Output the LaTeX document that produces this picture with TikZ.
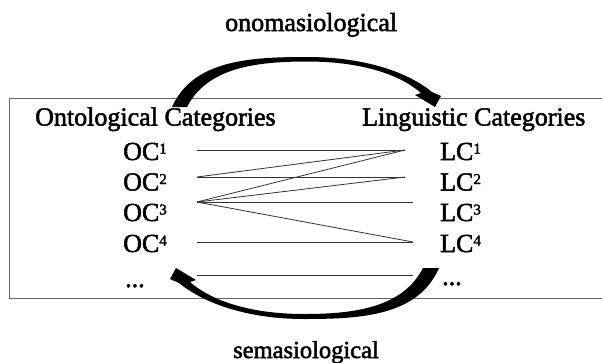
\documentclass[tikz,border=0pt]{standalone}
\usepackage{fontspec}
\setmainfont{Liberation Serif}
\newcommand\supnum[1]{{\fontsize{15}{15}\selectfont\raisebox{6.5pt}{#1}}}
\begin{document}
\begin{tikzpicture}[x=1pt,y=-1pt,
  lbl/.style={anchor=base west,inner sep=0pt,font=\fontsize{26}{30}\selectfont\addfontfeature{FakeBold=2}},
  link/.style={draw=black!80,line width=0.8pt},
  frame/.style={draw=black!60,line width=1pt},
  bendarrow/.style={fill=black}]
\useasboundingbox (0,0) rectangle (602,362);
\draw[frame] (602,98) -- (9.5,98) -- (9.5,298.5) -- (602,298.5);

\node[lbl] (ont) at (35,125.5) {Ontological Categories};
\node[lbl] (ling) at (362,125.5) {Linguistic Categories};

\node[lbl] (oc1) at (123,160) {OC\supnum{1}};
\node[lbl] (oc2) at (123,190.5) {OC\supnum{2}};
\node[lbl] (oc3) at (123,221) {OC\supnum{3}};
\node[lbl] (oc4) at (123,252) {OC\supnum{4}};
\node[lbl] (ocd) at (125,287) {...};

\node[lbl] (lc1) at (440,160) {LC\supnum{1}};
\node[lbl] (lc2) at (440,190.5) {LC\supnum{2}};
\node[lbl] (lc3) at (440,221) {LC\supnum{3}};
\node[lbl] (lc4) at (440,252) {LC\supnum{4}};
\node[lbl] (lcd) at (442,285) {...};

\node[lbl] (ono) at (225,31) {onomasiological};
\node[lbl,font=\fontsize{24.5}{30}\selectfont\addfontfeature{FakeBold=2}] (sem) at (233,358) {semasiological};

\coordinate (o1) at (197,150);
\coordinate (o2) at (197,177);
\coordinate (o3) at (197,202);
\coordinate (o4) at (197,242);
\coordinate (o5) at (197,275);
\coordinate (l1) at (405,150);
\coordinate (l2) at (405,177);
\coordinate (l3) at (413,202);
\coordinate (l4) at (413,242);
\coordinate (l5) at (413,275);

\draw[link] (o1) -- (l1);
\draw[link] (o2) -- (l1);
\draw[link] (o2) -- (l2);
\draw[link] (o3) -- (l1);
\draw[link] (o3) -- (l2);
\draw[link] (o3) -- (l3);
\draw[link] (o3) -- (l4);
\draw[link] (o4) -- (l4);
\draw[link] (o5) -- (l5);

% onomasiological arrow
\fill[bendarrow] (172,107) .. controls (193,60) and (250,57) .. (307,57)
  .. controls (360,57) and (405,70) .. (432,92)
  -- (441,96) -- (435,107) -- (415,95) -- (421,93)
  .. controls (398,73) and (358,61.5) .. (307,61.5)
  .. controls (255,61.5) and (207,68) .. (187,107) -- cycle;

% semasiological arrow
\begin{scope}[rotate around={180:(305.5,187.5)}]
\fill[bendarrow] (172,107) .. controls (193,59) and (250,56) .. (307,56)
  .. controls (360,56) and (405,70) .. (432,92)
  -- (441,96) -- (435,107) -- (415,95) -- (421,93)
  .. controls (398,73) and (358,61) .. (307,61)
  .. controls (255,61) and (208,68) .. (188,107) -- cycle;
\end{scope}
\end{tikzpicture}
\end{document}
